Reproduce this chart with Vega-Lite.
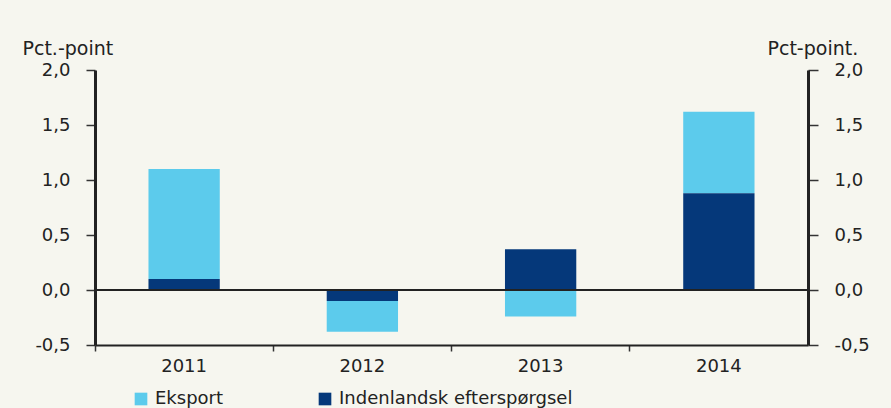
{
  "$schema": "https://vega.github.io/schema/vega-lite/v6.json",
  "width": 713,
  "height": 275,
  "autosize": "none",
  "padding": {"left": 95, "top": 70, "right": 83, "bottom": 63},
  "background": "#f6f6ef",
  "config": {
    "view": {"stroke": null},
    "font": "DejaVu Sans",
    "axis": {"labelFont": "DejaVu Sans", "titleFont": "DejaVu Sans", "labelColor": "#222", "titleColor": "#222"}
  },
  "data": {
    "values": [
      {"year": "2011", "series": "Eksport", "value": 1.0},
      {"year": "2011", "series": "Indenlandsk efterspørgsel", "value": 0.1},
      {"year": "2012", "series": "Eksport", "value": -0.28},
      {"year": "2012", "series": "Indenlandsk efterspørgsel", "value": -0.1},
      {"year": "2013", "series": "Eksport", "value": -0.24},
      {"year": "2013", "series": "Indenlandsk efterspørgsel", "value": 0.37},
      {"year": "2014", "series": "Eksport", "value": 0.74},
      {"year": "2014", "series": "Indenlandsk efterspørgsel", "value": 0.88}
    ]
  },
  "layer": [
    {
      "mark": {"type": "bar", "width": {"band": 0.4}},
      "encoding": {
        "x": {
          "field": "year", "type": "nominal",
          "scale": {"paddingInner": 0, "paddingOuter": 0},
          "axis": {
            "title": null, "labelAngle": 0, "bandPosition": 0,
            "domainColor": "#222", "domainWidth": 2,
            "tickColor": "#333", "tickWidth": 1.5, "tickSize": 6,
            "labelFontSize": 18, "labelPadding": 6, "labelColor": "#222"
          }
        },
        "y": {
          "field": "value", "type": "quantitative", "stack": "zero",
          "scale": {"domain": [-0.5, 2], "nice": false, "zero": false},
          "axis": {
            "orient": "left", "values": [-0.5, 0, 0.5, 1, 1.5, 2], "grid": false,
            "labelExpr": "(datum.value < 0 ? '-' : '') + replace(format(abs(datum.value), '.1f'), '.', ',')",
            "domainColor": "#222", "domainWidth": 3,
            "tickColor": "#333", "tickWidth": 1.5, "tickSize": 9,
            "labelFontSize": 18, "labelPadding": 16,
            "title": "Pct.-point", "titleAngle": 0, "titleAlign": "left", "titleBaseline": "alphabetic",
            "titleX": -73, "titleY": -16, "titleFontSize": 19, "titleFontWeight": "normal"
          }
        },
        "color": {
          "field": "series", "type": "nominal",
          "scale": {"domain": ["Eksport", "Indenlandsk efterspørgsel"], "range": ["#5ccbec", "#05387a"]},
          "legend": {
            "title": null, "orient": "none", "direction": "horizontal",
            "legendX": 37, "legendY": 320,
            "symbolType": "square", "symbolSize": 160, "symbolStrokeWidth": 0,
            "labelFontSize": 18, "labelColor": "#222", "labelOffset": 5,
            "columnPadding": 92, "labelLimit": 400
          }
        },
        "order": {"field": "series", "sort": "descending"}
      }
    },
    {
      "mark": {"type": "rule", "color": "#222", "strokeWidth": 1.8},
      "encoding": {
        "y": {
          "datum": 0, "type": "quantitative",
          "scale": {"domain": [-0.5, 2], "nice": false, "zero": false},
          "axis": {
            "orient": "right", "values": [-0.5, 0, 0.5, 1, 1.5, 2], "grid": false,
            "labelExpr": "(datum.value < 0 ? '-' : '') + replace(format(abs(datum.value), '.1f'), '.', ',')",
            "domainColor": "#222", "domainWidth": 3,
            "tickColor": "#333", "tickWidth": 1.5, "tickSize": 10,
            "labelFontSize": 18, "labelPadding": 16,
            "title": "Pct-point.", "titleAngle": 0, "titleAlign": "left", "titleBaseline": "alphabetic",
            "titleX": -41, "titleY": -16, "titleFontSize": 19, "titleFontWeight": "normal"
          }
        }
      }
    }
  ],
  "resolve": {"axis": {"y": "independent"}}
}
